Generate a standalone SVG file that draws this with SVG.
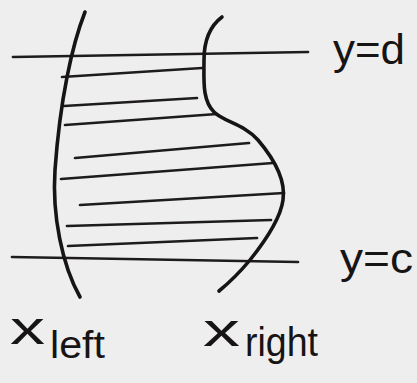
<svg xmlns="http://www.w3.org/2000/svg" width="417" height="383" viewBox="0 0 417 383">
<style>
.bg{fill:#efeeee}
.curve{fill:none;stroke:#161414;stroke-width:3.6;stroke-linecap:round;stroke-linejoin:round}
.hatch{fill:none;stroke:#1e1b1b;stroke-width:2.7;stroke-linecap:round}
.lbl{font-family:"Liberation Sans","DejaVu Sans",sans-serif;fill:#161414}
</style>
<rect class="bg" x="0" y="0" width="417" height="383"/>
<g id="connectors">
<path class="hatch" d="M13,57 L308,52"/>
<path class="hatch" d="M62,77 L202,68"/>
<path class="hatch" d="M64,106 L197,98"/>
<path class="hatch" d="M65,125 L217,114"/>
<path class="hatch" d="M75,158 L249,143"/>
<path class="hatch" d="M61,179 L273,163"/>
<path class="hatch" d="M80,205 L284,193"/>
<path class="hatch" d="M67,226 L271,220"/>
<path class="hatch" d="M68,246 L257,238"/>
<path class="hatch" d="M12,257 L298,262"/>
</g>
<g id="x-left">
<path class="curve" d="M85,12 C72,45 60,100 55,170 C52,215 62,265 80,297"/>
</g>
<g id="x-right">
<path class="curve" d="M222,17 C210,26 204,40 204,60 C204,80 202,100 214,112 C224,122 244,124 258,140 C275,160 286,180 283,200 C281,215 270,235 250,260 C240,272 230,282 219,291"/>
</g>
<g id="label-yd"><text class="lbl" x="333" y="64" font-size="42" textLength="72" lengthAdjust="spacingAndGlyphs">y=d</text></g>
<g id="label-yc"><text class="lbl" x="340" y="273" font-size="42" textLength="73" lengthAdjust="spacingAndGlyphs">y=c</text></g>
<g id="label-xleft"><text class="lbl" x="10" y="344" font-size="46" textLength="35" lengthAdjust="spacingAndGlyphs">x</text><text class="lbl" x="50" y="358" font-size="38" textLength="55" lengthAdjust="spacingAndGlyphs">left</text></g>
<g id="label-xright"><text class="lbl" x="203" y="346" font-size="46" textLength="37" lengthAdjust="spacingAndGlyphs">x</text><text class="lbl" x="245" y="356" font-size="40" textLength="73" lengthAdjust="spacingAndGlyphs">right</text></g>
</svg>
